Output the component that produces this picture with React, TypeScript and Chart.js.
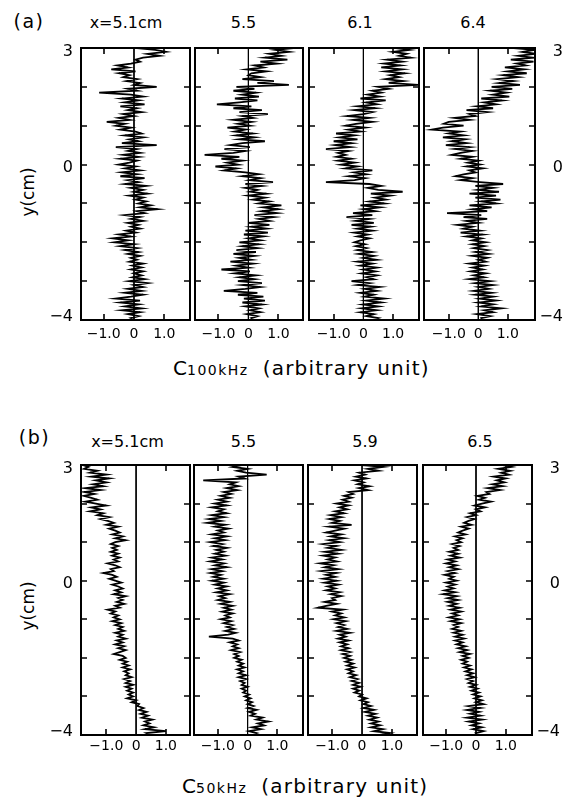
import React, { useEffect, useRef } from 'react';
import { Chart, registerables } from 'chart.js';

Chart.register(...registerables);

// y sample positions (cm), top to bottom
const Y_POS = [
  3, 2.95, 2.9, 2.85, 2.8, 2.75, 2.7, 2.65, 2.6, 2.55,
  2.5, 2.45, 2.4, 2.35, 2.3, 2.25, 2.2, 2.15, 2.1, 2.05,
  2, 1.95, 1.9, 1.85, 1.8, 1.75, 1.7, 1.65, 1.6, 1.55,
  1.5, 1.45, 1.4, 1.35, 1.3, 1.25, 1.2, 1.15, 1.1, 1.05,
  1, 0.95, 0.9, 0.85, 0.8, 0.75, 0.7, 0.65, 0.6, 0.55,
  0.5, 0.45, 0.4, 0.35, 0.3, 0.25, 0.2, 0.15, 0.1, 0.05,
  0, -0.05, -0.1, -0.15, -0.2, -0.25, -0.3, -0.35, -0.4, -0.45,
  -0.5, -0.55, -0.6, -0.65, -0.7, -0.75, -0.8, -0.85, -0.9, -0.95,
  -1, -1.05, -1.1, -1.15, -1.2, -1.25, -1.3, -1.35, -1.4, -1.45,
  -1.5, -1.55, -1.6, -1.65, -1.7, -1.75, -1.8, -1.85, -1.9, -1.95,
  -2, -2.05, -2.1, -2.15, -2.2, -2.25, -2.3, -2.35, -2.4, -2.45,
  -2.5, -2.55, -2.6, -2.65, -2.7, -2.75, -2.8, -2.85, -2.9, -2.95,
  -3, -3.05, -3.1, -3.15, -3.2, -3.25, -3.3, -3.35, -3.4, -3.45,
  -3.5, -3.55, -3.6, -3.65, -3.7, -3.75, -3.8, -3.85, -3.9, -3.95,
  -4,
];

// (a) C100kHz profiles
const A_X51 = [
  0.1, 0.7, 1.05, 0.45, 0.85, 0.3, 0.05, 0.2, -0.1, -0.55,
  -0.2, -0.75, 0.05, -0.5, -0.15, -0.35, 0.1, -0.25, 0.2, 0.0,
  0.75, -0.2, 0.1, -1.15, -0.1, 0.3, -0.4, 0.15, -0.3, 0.35,
  -0.45, 0.1, -0.2, 0.25, -0.35, 0.0, -0.5, -0.15, -0.9, -0.3,
  -0.6, -0.1, -0.45, 0.05, 0.25, -0.3, 0.3, -0.15, 0.15, -0.4,
  0.75, -0.6, 0.1, -0.2, 0.2, -0.35, 0.15, -0.45, 0.1, -0.15,
  -0.5, 0.05, -0.3, 0.2, -0.4, 0.1, -0.45, 0.35, -0.2, 0.15,
  -0.3, 0.4, -0.1, 0.3, 0.0, 0.45, -0.15, 0.3, 0.05, 0.4,
  0.15, 0.55, 0.2, 0.78, 0.1, 0.35, -0.3, 0.2, -0.1, 0.3,
  -0.2, 0.15, -0.1, 0.2, -0.25, 0.05, -0.5, -0.1, -0.7, -0.2,
  -0.65, 0.0, -0.45, 0.1, -0.3, 0.15, -0.2, 0.2, -0.1, 0.1,
  -0.15, 0.3, -0.05, 0.25, -0.1, 0.3, 0.0, 0.25, -0.05, 0.35,
  -0.15, 0.45, 0.0, 0.3, -0.2, 0.25, -0.3, 0.3, -0.1, -0.6,
  0.2, -0.45, 0.15, -0.3, 0.25, -0.4, 0.2, -0.2, 0.15, -0.1,
  0.05,
];
const A_X55 = [
  1.5, 0.9, 1.35, 0.7, 1.1, 0.55, 1.3, 0.4, 0.95, 0.2,
  0.5, -0.05, 0.6, 0.1, 0.0, 0.4, -0.2, 0.85, 0.3, 1.35,
  -0.4, 0.2, -0.5, 0.25, -0.2, 0.35, -0.45, 0.3, -0.3, -1.05,
  0.1, -0.5, 0.45, -0.3, 0.65, -0.2, 0.15, -0.5, 0.1, -0.35,
  0.05, -0.7, -0.1, -0.45, 0.15, -0.4, 0.2, -0.3, 0.55, -0.2,
  -0.6, 0.05, -0.8, -0.1, -0.5, -1.46, -0.3, -0.9, -0.2, -0.7,
  -0.35, -1.1, -0.4, -0.8, -0.1, 0.35, -0.2, 0.4, 0.05, 0.82,
  -0.1, 0.45, -0.1, 0.3, 0.05, 0.6, 0.0, 0.55, 0.15, 0.7,
  0.35, 1.1, 0.5, 1.0, 0.45, 0.95, 0.2, 0.85, 0.35, 0.7,
  0.0, 0.7, 0.1, 0.6, -0.1, 0.65, -0.15, 0.5, 0.0, 0.4,
  -0.3, 0.35, -0.2, 0.3, -0.4, 0.25, -0.5, 0.2, -0.3, 0.1,
  -0.6, 0.15, -0.4, 0.0, -0.9, 0.05, -0.45, 0.25, -0.3, 0.2,
  -0.35, 0.45, -0.2, 0.4, -0.1, -0.82, 0.3, -0.35, 0.5, -0.15,
  0.55, -0.2, 0.45, -0.1, 0.35, 0.05, 0.4, -0.05, 0.3, 0.1,
  0.2,
];
const A_X61 = [
  1.1, 1.55, 1.0, 1.45, 1.2, 1.6, 0.8, 1.3, 0.7, 1.25,
  0.6, 1.3, 0.75, 1.4, 0.9, 1.2, 0.75, 1.35, 0.85, 1.84,
  0.5, 0.85, 0.3, 0.6, 0.15, 0.55, -0.1, 0.75, 0.1, 0.45,
  -0.2, 0.4, -0.3, 0.3, 0.0, -0.55, 0.2, -0.35, 0.3, -0.25,
  -0.6, 0.05, -0.5, -0.1, -0.92, -0.3, -0.8, -0.2, -1.0, -0.4,
  -0.95, -0.45, -1.26, -0.5, -0.85, -0.6, -0.9, -0.4, -0.85, -0.3,
  -0.75, -0.2, -0.6, 0.3, -0.3, 0.1, -0.5, 0.05, -0.3, -1.26,
  0.2, 0.6, 0.15, 0.5, 1.32, 0.25, 0.9, 0.4, 0.75, 0.2,
  0.7, -0.1, 0.55, 0.0, 0.4, -0.35, 0.3, -0.57, 0.2, -0.25,
  0.35, -0.4, 0.25, -0.2, 0.3, -0.3, 0.15, -0.2, 0.2, -0.1,
  -0.3, 0.05, -0.25, 0.1, -0.2, 0.3, -0.15, 0.35, 0.0, 0.45,
  -0.2, 0.3, -0.1, 0.45, 0.0, 0.4, -0.05, 0.45, 0.1, 0.35,
  -0.4, 0.2, -0.2, 0.55, 0.05, 0.45, -0.1, 0.35, 0.05, 0.7,
  0.1, 0.6, 0.0, 0.5, -0.05, 0.45, -0.1, 0.35, 0.1, 0.5,
  0.3,
];
const A_X64 = [
  1.2, 1.9, 1.5, 1.93, 1.35, 1.85, 1.1, 1.87, 1.3, 1.6,
  0.9, 1.55, 1.0, 1.64, 0.85, 1.35, 0.65, 1.2, 0.7, 1.41,
  0.45, 1.15, 0.4, 0.95, 0.5, 1.05, 0.1, 0.8, 0.2, 0.6,
  -0.05, 0.5, -0.4, 0.3, -0.3, -0.1, -0.8, -0.3, -1.0, -1.17,
  -0.5, -1.2, -1.57, -0.6, -1.0, -0.5, -1.2, -0.45, -0.9, -0.4,
  -1.1, -0.3, -0.8, -0.2, -0.6, -0.9, -0.2, -0.6, 0.0, -0.35,
  0.05, -0.4, 0.15, -0.3, -0.1, -0.5, -0.77, -0.2, -0.6, 0.05,
  0.84, -0.1, 0.5, 0.0, 0.7, -0.3, 0.6, -0.1, 0.75, 0.1,
  0.6, -0.3, 0.45, -0.2, 0.3, -1.06, 0.1, -0.5, 0.3, -0.4,
  0.0, -0.7, -0.2, -0.5, 0.05, -0.6, 0.15, -0.4, 0.1, -0.2,
  0.25, -0.2, 0.2, -0.15, 0.3, -0.1, 0.35, -0.2, 0.3, 0.0,
  0.25, -0.3, 0.2, -0.2, 0.15, -0.25, 0.25, -0.15, 0.2, -0.3,
  0.4, -0.1, 0.5, 0.0, 0.35, -0.15, 0.45, -0.1, 0.5, 0.05,
  0.6, 0.0, 0.5, 0.1, 0.78, 0.2, 0.5, -0.05, 0.4, 0.1,
  0.15,
];

// (b) C50kHz profiles
const B_X51 = [
  -1.8, -1.6, -1.75, -1.3, -1.55, -1.0, -1.5, -0.9, -1.35, -1.0,
  -1.45, -1.1, -1.7, -1.2, -1.75, -1.4, -1.75, -1.5, -1.3, -1.7,
  -1.35, -1.0, -1.5, -1.2, -1.55, -1.1, -1.3, -0.9, -1.2, -0.95,
  -0.75, -1.0, -0.6, -0.9, -0.7, -0.55, -0.8, -0.45, -0.7, -0.35,
  -0.7, -0.85, -0.6, -0.8, -0.65, -0.85, -0.6, -0.8, -0.55, -0.75,
  -0.6, -0.95, -0.7, -0.55, -0.85, -0.75, -1.1, -0.8, -0.65, -0.9,
  -0.7, -0.5, -0.8, -0.6, -0.45, -0.7, -0.5, -0.75, -0.35, -0.6,
  -0.45, -0.65, -0.4, -0.7, -0.55, -0.95, -0.7, -0.85, -0.6, -0.75,
  -0.55, -0.8, -0.5, -0.7, -0.45, -0.6, -0.4, -0.7, -0.45, -0.6,
  -0.35, -0.65, -0.45, -0.7, -0.4, -0.6, -0.35, -0.55, -0.75, -0.45,
  -0.35, -0.55, -0.3, -0.45, -0.25, -0.45, -0.2, -0.4, -0.25, -0.35,
  -0.15, -0.4, -0.2, -0.35, -0.1, -0.35, -0.15, -0.3, -0.1, -0.25,
  -0.1, -0.3, 0.0, -0.15, 0.1, 0.05, 0.25, 0.1, 0.35, 0.15,
  0.4, 0.2, 0.55, 0.3, 0.45, 0.25, 0.6, 0.3, 1.0, 0.35,
  0.5,
];
const B_X55 = [
  -0.2, -0.5, 0.0, -0.35, -0.05, 0.64, -0.3, -0.1, -1.49, -0.4,
  -0.6, -0.3, -0.7, -0.35, -0.8, -0.55, -0.9, -0.6, -1.0, -0.7,
  -1.1, -0.7, -1.2, -0.8, -1.0, -0.7, -1.2, -0.8, -1.3, -0.9,
  -1.35, -0.75, -1.1, -0.65, -1.0, -0.8, -1.2, -0.7, -1.1, -0.75,
  -1.25, -0.85, -1.15, -0.7, -1.05, -0.8, -1.1, -0.75, -1.2, -0.85,
  -1.25, -0.8, -1.1, -0.7, -1.2, -0.85, -1.25, -0.9, -1.15, -0.8,
  -1.2, -0.8, -1.1, -0.7, -1.0, -0.7, -1.05, -0.6, -0.95, -0.75,
  -1.0, -0.6, -0.9, -0.5, -0.8, -0.55, -0.85, -0.5, -0.75, -0.6,
  -0.9, -0.55, -0.8, -0.5, -0.7, -0.45, -0.75, -0.4, -0.65, -1.3,
  -0.5, -0.3, -0.6, -0.35, -0.5, -0.3, -0.55, -0.25, -0.45, -0.3,
  -0.45, -0.2, -0.35, -0.15, -0.3, -0.1, -0.35, -0.15, -0.3, -0.05,
  -0.3, -0.05, -0.25, -0.1, -0.2, 0.0, -0.2, -0.05, -0.15, 0.05,
  -0.1, 0.1, -0.05, 0.15, 0.0, 0.2, 0.0, 0.3, 0.05, 0.25,
  0.1, 0.5, 0.3, 0.7, 0.35, 0.55, 0.15, 0.45, 0.05, 0.3,
  0.1,
];
const B_X59 = [
  0.0, 0.71, 0.2, 0.55, -0.1, 0.1, -0.2, 0.15, -0.25, 0.05,
  -0.15, 0.25, -0.1, 0.2, -0.45, -0.3, -0.6, -0.35, -0.65, -0.45,
  -0.85, -0.45, -0.75, -0.5, -0.9, -0.6, -1.05, -0.7, -1.1, -0.75,
  -1.0, -0.35, -1.1, -0.6, -0.9, -1.2, -0.7, -1.05, -0.6, -1.1,
  -0.75, -1.3, -0.85, -1.15, -0.7, -1.25, -0.8, -1.3, -0.9, -1.15,
  -0.85, -1.4, -0.95, -1.25, -0.8, -1.35, -0.85, -1.2, -0.9, -1.3,
  -0.85, -1.25, -0.8, -1.15, -0.9, -1.2, -0.75, -1.05, -0.7, -1.0,
  -0.9, -1.25, -0.85, -1.2, -1.48, -0.65, -1.0, -0.7, -0.9, -0.6,
  -0.95, -0.55, -0.85, -0.6, -0.8, -0.5, -0.85, -0.4, -0.75, -0.55,
  -0.8, -0.45, -0.75, -0.5, -0.7, -0.45, -0.7, -0.4, -0.65, -0.4,
  -0.6, -0.35, -0.55, -0.3, -0.5, -0.25, -0.5, -0.3, -0.45, -0.2,
  -0.4, -0.15, -0.35, -0.1, -0.3, -0.05, -0.3, -0.1, -0.25, 0.0,
  -0.1, 0.15, -0.05, 0.2, 0.05, 0.3, 0.05, 0.4, 0.1, 0.45,
  0.2, 0.5, 0.25, 0.55, 0.3, 0.6, 0.3, 0.7, 0.4, 0.93,
  0.6,
];
const B_X65 = [
  0.9, 1.2, 0.75, 1.15, 0.85, 1.1, 0.6, 1.0, 0.7, 0.95,
  0.55, 0.9, 0.4, 0.8, 0.35, 0.45, 0.05, 0.3, 0.1, 0.5,
  0.2, -0.05, 0.3, 0.0, 0.15, -0.2, 0.0, -0.3, -0.05, -0.25,
  -0.4, -0.15, -0.5, -0.25, -0.45, -0.6, -0.35, -0.7, -0.45, -0.65,
  -0.5, -0.8, -0.55, -0.75, -0.6, -0.9, -0.6, -0.85, -0.55, -0.95,
  -0.7, -1.0, -0.65, -0.9, -0.6, -0.95, -0.7, -1.05, -0.75, -0.9,
  -0.65, -1.0, -0.7, -0.95, -0.75, -1.05, -0.7, -1.1, -0.65, -0.95,
  -0.6, -0.95, -0.65, -0.9, -0.55, -0.85, -0.5, -0.8, -0.6, -0.9,
  -0.55, -0.85, -0.5, -0.75, -0.6, -0.8, -0.5, -0.75, -0.45, -0.7,
  -0.4, -0.7, -0.45, -0.65, -0.35, -0.6, -0.3, -0.55, -0.2, -0.45,
  -0.25, -0.5, -0.3, -0.45, -0.2, -0.4, -0.15, -0.35, -0.1, -0.3,
  -0.05, -0.3, -0.1, -0.25, 0.0, -0.2, 0.05, -0.15, 0.1, -0.1,
  0.15, -0.05, 0.2, 0.0, 0.25, -0.25, 0.15, -0.3, 0.1, -0.2,
  0.15, -0.3, 0.2, -0.25, 0.1, -0.15, 0.2, -0.1, 0.25, 0.0,
  0.1,
];

const ROW_A_TITLES = ['x=5.1cm', '5.5', '6.1', '6.4'];
const ROW_B_TITLES = ['x=5.1cm', '5.5', '5.9', '6.5'];
const X_TICKS = [-1, 0, 1];
const X_TICK_LABELS = ['\u22121.0', '0', '1.0'];
const X_MINOR = [-1, 1];
const Y_TICKS = [3, 0, -4];
const Y_TICK_LABELS = ['3', '0', '\u22124'];
const Y_MINOR = [2, 1, 0, -1, -2, -3];
const ZERO_LINE_X = [0, 0];
const ZERO_LINE_Y = [3, -4];

const FONT = "'DejaVu Sans', sans-serif";

const framePlugin = {
  id: 'frameTicks',
  afterDatasetsDraw(chart: any) {
    const { ctx, chartArea } = chart;
    const { left, right, top, bottom } = chartArea;
    const xs = chart.scales.x;
    const ys = chart.scales.y;
    ctx.save();
    ctx.strokeStyle = '#000';
    ctx.lineWidth = 2;
    ctx.strokeRect(left, top, right - left, bottom - top);
    ctx.lineWidth = 1.6;
    ctx.beginPath();
    for (const v of Y_MINOR) {
      const py = Math.round(ys.getPixelForValue(v));
      ctx.moveTo(left, py);
      ctx.lineTo(left + 6, py);
      ctx.moveTo(right, py);
      ctx.lineTo(right - 6, py);
    }
    for (const v of X_MINOR) {
      const px = Math.round(xs.getPixelForValue(v));
      ctx.moveTo(px, top);
      ctx.lineTo(px, top + 6);
      ctx.moveTo(px, bottom);
      ctx.lineTo(px, bottom - 6);
    }
    ctx.stroke();
    ctx.restore();
  },
};

type PanelProps = {
  values: number[];
  left: number;
  top: number;
  width: number;
  height: number;
  xMin: number;
  xMax: number;
  yAxis: 'left' | 'right' | 'none';
  labelPad: number;
};

function yLabel(i: number) {
  // first/last labels sit just inside the frame, like the original lettering
  const t = Y_TICK_LABELS[i];
  if (i === Y_TICK_LABELS.length - 1) return [t, ''];
  return ['', t];
}

function Panel(p: PanelProps) {
  const ref = useRef<HTMLCanvasElement>(null);
  const L = p.yAxis === 'left' ? 44 : 4;
  const R = p.yAxis === 'right' ? 28 : 4;
  const T = 14;
  const B = 28;
  useEffect(() => {
    const chart = new Chart(ref.current as HTMLCanvasElement, {
      type: 'scatter',
      data: {
        datasets: [
          {
            data: ZERO_LINE_X.map((x, i) => ({ x, y: ZERO_LINE_Y[i] })),
            showLine: true,
            borderColor: '#000',
            borderWidth: 1,
            pointRadius: 0,
          },
          {
            data: p.values.map((v, i) => ({ x: v, y: Y_POS[i] })),
            showLine: true,
            borderColor: '#000',
            borderWidth: 1.8,
            pointRadius: 0,
            tension: 0,
          },
        ],
      },
      options: {
        animation: false,
        responsive: false,
        devicePixelRatio: 1,
        events: [],
        layout: {
          padding: {
            left: p.yAxis === 'left' ? 0 : L,
            right: p.yAxis === 'right' ? 0 : R,
            top: T,
            bottom: 0,
          },
        },
        plugins: { legend: { display: false }, tooltip: { enabled: false } },
        scales: {
          x: {
            type: 'linear',
            position: 'bottom',
            min: p.xMin,
            max: p.xMax,
            grid: { display: false, drawTicks: false },
            border: { display: false },
            afterBuildTicks: (s: any) => {
              s.ticks = X_TICKS.map((v) => ({ value: v }));
            },
            afterFit: (s: any) => {
              s.height = B;
              s.paddingLeft = 0;
              s.paddingRight = 0;
              s.paddingTop = 0;
              s.paddingBottom = 0;
            },
            ticks: {
              autoSkip: false,
              maxRotation: 0,
              padding: p.labelPad,
              color: '#000',
              font: { family: FONT, size: 14 },
              callback: (_v: any, i: number) => X_TICK_LABELS[i],
            },
          },
          y: {
            type: 'linear',
            position: p.yAxis === 'right' ? 'right' : 'left',
            display: p.yAxis !== 'none',
            min: -4,
            max: 3,
            grid: { display: false, drawTicks: false },
            border: { display: false },
            afterBuildTicks: (s: any) => {
              s.ticks = Y_TICKS.map((v) => ({ value: v }));
            },
            afterFit: (s: any) => {
              s.width = p.yAxis === 'left' ? L : p.yAxis === 'right' ? R : 0;
              s.paddingLeft = 0;
              s.paddingRight = 0;
              s.paddingTop = 0;
              s.paddingBottom = 0;
            },
            ticks: {
              display: p.yAxis !== 'none',
              autoSkip: false,
              padding: 8,
              crossAlign: p.yAxis === 'right' ? 'far' : 'near',
              color: '#000',
              font: { family: FONT, size: 16, lineHeight: 0.45 },
              callback: (_v: any, i: number) => yLabel(i),
            },
          },
        },
      } as any,
      plugins: [framePlugin],
    });
    return () => chart.destroy();
  }, []);
  return (
    <canvas
      ref={ref}
      width={p.width + L + R}
      height={p.height + T + B}
      style={{ position: 'absolute', left: p.left - L, top: p.top - T }}
    />
  );
}

function Label(props: { x: number; y: number; size: number; text: string; rotate?: boolean; spacing?: number }) {
  return (
    <div
      style={{
        position: 'absolute',
        left: props.x,
        top: props.y,
        transform: `translate(-50%, -50%)${props.rotate ? ' rotate(-90deg)' : ''}`,
        fontSize: props.size,
        lineHeight: 1,
        letterSpacing: props.spacing ?? 0,
        whiteSpace: 'nowrap',
        color: '#000',
      }}
    >
      {props.text}
    </div>
  );
}

function AxisTitle(props: { left: number; top: number; sub: string }) {
  return (
    <div
      style={{
        position: 'absolute',
        left: props.left,
        top: props.top,
        fontSize: 20,
        lineHeight: '20px',
        whiteSpace: 'nowrap',
        color: '#000',
      }}
    >
      <span>C</span>
      <span style={{ fontSize: 14, letterSpacing: 1.5 }}>{props.sub}</span>
      <span style={{ marginLeft: 14, letterSpacing: 1.2 }}>(arbitrary unit)</span>
    </div>
  );
}

const ROW_A_DATA = [A_X51, A_X55, A_X61, A_X64];
const ROW_B_DATA = [B_X51, B_X55, B_X59, B_X65];

const ROW_A_LEFT = [81, 195, 309, 424];
const ROW_A_WIDTH = [109, 108, 110, 111];
const ROW_A_XMIN = [-1.75, -1.78, -1.83, -1.84];
const ROW_A_XMAX = [1.85, 1.82, 1.87, 1.92];
const ROW_A_TITLE_X = [126, 243.5, 360, 473];

const ROW_B_LEFT = [81, 194, 308, 423];
const ROW_B_WIDTH = [109, 109, 109, 109];
const ROW_B_XMIN = [-1.85, -1.8, -1.81, -1.78];
const ROW_B_XMAX = [1.81, 1.86, 1.84, 1.88];
const ROW_B_TITLE_X = [127.5, 243.5, 365, 480];

export default function App() {
  const axisFor = (i: number) => (i === 0 ? 'left' : i === 3 ? 'right' : 'none') as 'left' | 'right' | 'none';
  return (
    <div
      style={{
        position: 'absolute',
        left: 0,
        top: 0,
        width: 569,
        height: 798,
        background: '#fff',
        fontFamily: FONT,
        overflow: 'hidden',
      }}
    >
      <Label x={29} y={21} size={19} spacing={1.5} text="(a)" />
      {ROW_A_TITLES.map((t, i) => (
        <Label key={'ta' + i} x={ROW_A_TITLE_X[i]} y={23} size={16} text={t} />
      ))}
      <Label x={27.5} y={192} size={17} text="y(cm)" rotate />
      {ROW_A_DATA.map((d, i) => (
        <Panel
          key={'pa' + i}
          values={d}
          left={ROW_A_LEFT[i]}
          top={48}
          width={ROW_A_WIDTH[i]}
          height={272}
          xMin={ROW_A_XMIN[i]}
          xMax={ROW_A_XMAX[i]}
          yAxis={axisFor(i)}
          labelPad={6}
        />
      ))}
      <AxisTitle left={173} top={358} sub="100kHz" />

      <Label x={34.5} y={436.5} size={19} spacing={1.5} text="(b)" />
      {ROW_B_TITLES.map((t, i) => (
        <Label key={'tb' + i} x={ROW_B_TITLE_X[i]} y={442} size={16} text={t} />
      ))}
      <Label x={27.5} y={606} size={17} text="y(cm)" rotate />
      {ROW_B_DATA.map((d, i) => (
        <Panel
          key={'pb' + i}
          values={d}
          left={ROW_B_LEFT[i]}
          top={465}
          width={ROW_B_WIDTH[i]}
          height={270}
          xMin={ROW_B_XMIN[i]}
          xMax={ROW_B_XMAX[i]}
          yAxis={axisFor(i)}
          labelPad={3}
        />
      ))}
      <AxisTitle left={182} top={776} sub="50kHz" />
    </div>
  );
}
